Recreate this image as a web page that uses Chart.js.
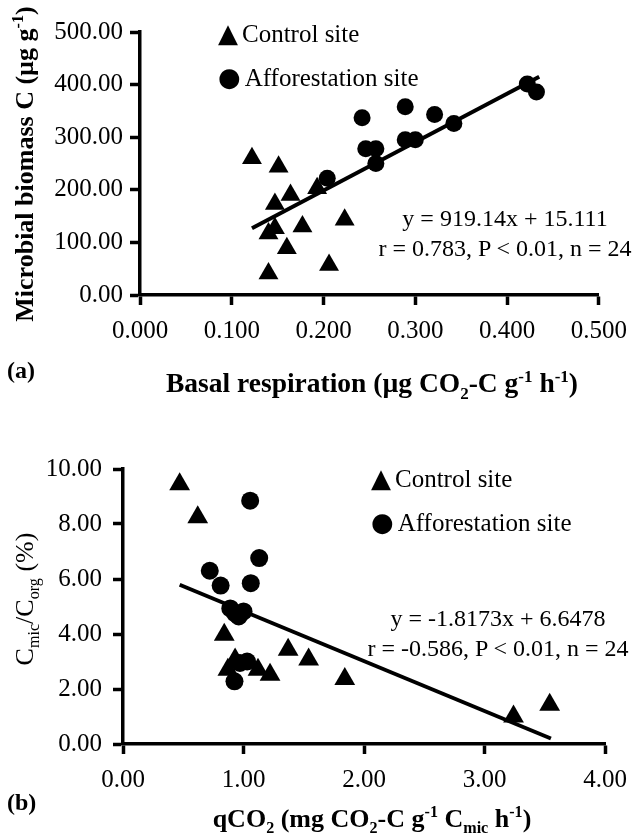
<!DOCTYPE html>
<html>
<head>
<meta charset="utf-8">
<script src="https://cdn.jsdelivr.net/npm/chart.js@4/dist/chart.umd.min.js"></script>
<style>
  body { margin: 0; background: #fff; }
  #wrap { position: relative; width: 638px; height: 834px; font-family: 'Liberation Serif', serif; color: #000; }
  canvas { position: absolute; left: 0; }
  .txt { position: absolute; white-space: nowrap; line-height: 1; }
  .bold { font-weight: 700; }
  .rot { transform: rotate(-90deg); transform-origin: center center; text-align: center; }
  sup, sub { font-size: 0.62em; line-height: 0; }
  .mark { font-family: 'DejaVu Sans', sans-serif; font-size: 26px; margin-right: 4px; }
</style>
</head>
<body>
<div id="wrap">
  <canvas id="chartA" width="638" height="420" style="top:0"></canvas>
  <canvas id="chartB" width="638" height="414" style="top:420px"></canvas>

  <!-- panel (a) texts -->
  <div class="txt bold rot" style="left:-155px;top:151px;width:360px;font-size:26px">Microbial biomass C (µg g<sup>-1</sup>)</div>
  <div class="txt bold" style="left:7px;top:358px;font-size:24px">(a)</div>
  <div class="txt bold" style="left:122px;top:369px;width:500px;text-align:center;font-size:27.5px">Basal respiration (µg CO<sub>2</sub>-C g<sup>-1</sup> h<sup>-1</sup>)</div>
  <div class="txt" style="left:218px;top:20px;font-size:25px"><span class="mark">▲</span>Control site</div>
  <div class="txt" style="left:218px;top:64px;font-size:25px"><span class="mark">●</span>Afforestation site</div>
  <div class="txt" style="left:370px;top:206px;width:270px;text-align:center;font-size:24px">y = 919.14x + 15.111</div>
  <div class="txt" style="left:360px;top:236px;width:290px;text-align:center;font-size:24px">r = 0.783, P &lt; 0.01, n = 24</div>

  <!-- panel (b) texts -->
  <div class="txt rot" style="left:-155px;top:586px;width:360px;font-size:26px">C<sub>mic</sub>/C<sub>org</sub> (%)</div>
  <div class="txt bold" style="left:7px;top:790px;font-size:24px">(b)</div>
  <div class="txt bold" style="left:122px;top:806px;width:500px;text-align:center;font-size:26px">qCO<sub>2</sub> (mg CO<sub>2</sub>-C g<sup>-1</sup> C<sub>mic</sub> h<sup>-1</sup>)</div>
  <div class="txt" style="left:371px;top:465px;font-size:25px"><span class="mark">▲</span>Control site</div>
  <div class="txt" style="left:371px;top:509px;font-size:25px"><span class="mark">●</span>Afforestation site</div>
  <div class="txt" style="left:363px;top:606px;width:270px;text-align:center;font-size:24px">y = -1.8173x + 6.6478</div>
  <div class="txt" style="left:353px;top:636px;width:290px;text-align:center;font-size:24px">r = -0.586, P &lt; 0.01, n = 24</div>
</div>

<script>
// panel (a): basal respiration vs microbial biomass C
const controlRespA = [0.122, 0.151, 0.164, 0.147, 0.193, 0.177, 0.223, 0.147, 0.140, 0.160, 0.140, 0.206];
const controlBiomassA = [260, 244, 190, 173, 203, 130, 143, 127, 117, 89, 41, 57];
const affRespA = [0.242, 0.289, 0.321, 0.342, 0.246, 0.257, 0.257, 0.289, 0.300, 0.204, 0.422, 0.432];
const affBiomassA = [337, 358, 343, 326, 278, 278, 250, 295, 295, 222, 401, 386];
const trendXA = [0.122, 0.435];
const trendYA = [127, 415];
const xTicksA = [0, 0.1, 0.2, 0.3, 0.4, 0.5];
const yTicksA = [0, 100, 200, 300, 400, 500];

// panel (b): qCO2 vs Cmic/Corg
const controlQco2B = [0.47, 0.62, 0.84, 1.37, 1.54, 1.84, 0.93, 0.87, 1.12, 1.22, 3.24, 3.54];
const controlRatioB = [9.45, 8.25, 3.97, 3.43, 3.07, 2.36, 3.07, 2.70, 2.70, 2.52, 1.00, 1.43];
const affQco2B = [1.055, 1.13, 0.72, 0.81, 1.06, 0.89, 1.00, 0.96, 0.93, 1.03, 0.97, 0.925];
const affRatioB = [8.85, 6.76, 6.30, 5.76, 5.85, 4.93, 4.82, 4.64, 4.75, 3.00, 2.95, 2.28];
const trendXB = [0.47, 3.55];
const trendYB = [5.79, 0.20];
const xTicksB = [0, 1, 2, 3, 4];
const yTicksB = [0, 2, 4, 6, 8, 10];

const toPoints = (xs, ys) => xs.map((x, i) => ({ x: x, y: ys[i] }));

const tickFont = { family: "'Liberation Serif', serif", size: 25 };

function axis(ticks, digits, opts) {
  return {
    type: 'linear',
    min: ticks[0],
    max: ticks[ticks.length - 1],
    afterBuildTicks: scale => { scale.ticks = ticks.map(v => ({ value: v })); },
    afterFit: opts.fit,
    grid: {
      drawOnChartArea: false,
      drawTicks: true,
      tickLength: 10,
      tickWidth: 3.5,
      tickColor: '#000',
      color: '#000'
    },
    border: { display: true, color: '#000', width: 3.5 },
    ticks: {
      color: '#000',
      font: tickFont,
      padding: opts.padding,
      autoSkip: false,
      maxRotation: 0,
      callback: v => Number(v).toFixed(digits)
    }
  };
}

function makeChart(id, ctrl, aff, trend, xAx, yAx, pad, sizes) {
  new Chart(document.getElementById(id), {
    type: 'scatter',
    data: {
      datasets: [
        {
          label: 'Control site',
          data: ctrl,
          pointStyle: 'triangle',
          pointRadius: sizes.tri,
          backgroundColor: '#000',
          borderColor: '#000',
          borderWidth: 0
        },
        {
          label: 'Afforestation site',
          data: aff,
          pointStyle: 'circle',
          pointRadius: sizes.dot,
          backgroundColor: '#000',
          borderColor: '#000',
          borderWidth: 0
        },
        {
          type: 'line',
          label: 'trend',
          data: trend,
          borderColor: '#000',
          borderWidth: 4,
          pointRadius: 0,
          fill: false
        }
      ]
    },
    options: {
      responsive: false,
      animation: false,
      devicePixelRatio: 1,
      layout: { padding: pad },
      plugins: { legend: { display: false }, tooltip: { enabled: false } },
      scales: { x: xAx, y: yAx }
    }
  });
}

makeChart('chartA',
  toPoints(controlRespA, controlBiomassA),
  toPoints(affRespA, affBiomassA),
  toPoints(trendXA, trendYA),
  axis(xTicksA, 3, { padding: 11, fit: s => { s.height = 125; } }),
  axis(yTicksA, 2, { padding: 7, fit: s => { s.width = 140; } }),
  { top: 32, right: 28, left: 0, bottom: 0 },
  { tri: 11.5, dot: 8.5 }
);

makeChart('chartB',
  toPoints(controlQco2B, controlRatioB),
  toPoints(affQco2B, affRatioB),
  toPoints(trendXB, trendYB),
  axis(xTicksB, 2, { padding: 11, fit: s => { s.height = 90; } }),
  axis(yTicksB, 2, { padding: 11, fit: s => { s.width = 123; } }),
  { top: 49, right: 21, left: 0, bottom: 0 },
  { tri: 12, dot: 9 }
);
</script>
</body>
</html>
